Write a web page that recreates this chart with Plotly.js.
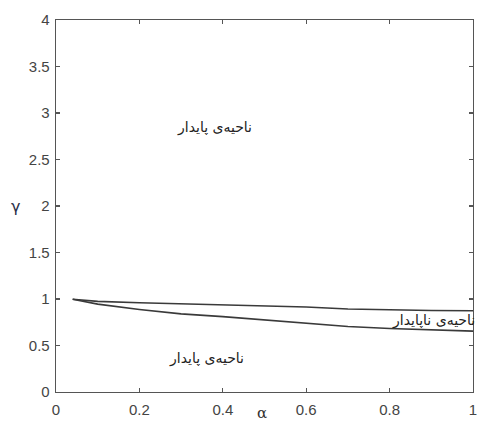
<!DOCTYPE html>
<html>
<head>
<meta charset="utf-8">
<script src="https://cdn.plot.ly/plotly-3.0.1.min.js"></script>
<style>html,body{margin:0;padding:0;background:#fff;}#chart{width:477px;height:421px;}</style>
</head>
<body>
<div id="chart"></div>
<script>
// Data
const alphaVals = [0.04, 0.1, 0.2, 0.3, 0.4, 0.5, 0.6, 0.7, 0.8, 0.9, 1.0];
const upperBoundary = [0.997, 0.975, 0.960, 0.948, 0.935, 0.924, 0.914, 0.893, 0.882, 0.877, 0.873];
const lowerBoundary = [0.997, 0.945, 0.888, 0.840, 0.810, 0.773, 0.735, 0.705, 0.683, 0.666, 0.655];
const xTicks = [0, 0.2, 0.4, 0.6, 0.8, 1];
const xTickText = ['0', '0.2', '0.4', '0.6', '0.8', '1'];
const yTicks = [0, 0.5, 1, 1.5, 2, 2.5, 3, 3.5, 4];
const yTickText = ['0', '0.5', '1', '1.5', '2', '2.5', '3', '3.5', '4'];
const regionLabels = ['ناحیه‌ی پایدار', 'ناحیه‌ی ناپایدار', 'ناحیه‌ی پایدار'];
const regionX = [0.38, 0.905, 0.36];
const regionY = [2.84, 0.765, 0.36];

const lineStyle = {color: '#3a3a3a', width: 1.6};
const traces = [
  {x: alphaVals, y: upperBoundary, mode: 'lines', line: lineStyle, hoverinfo: 'skip', showlegend: false},
  {x: alphaVals, y: lowerBoundary, mode: 'lines', line: lineStyle, hoverinfo: 'skip', showlegend: false}
];

const annotations = regionLabels.map((t, i) => ({
  x: regionX[i], y: regionY[i], xref: 'x', yref: 'y', text: t, showarrow: false,
  font: {family: 'DejaVu Sans', size: 14, color: '#222'}
}));
annotations.push({
  x: -0.098, y: 0.5, xref: 'paper', yref: 'paper', text: 'γ', showarrow: false,
  xanchor: 'center', yanchor: 'middle',
  font: {family: 'DejaVu Sans', size: 16, color: '#2a2f4a'}
});
annotations.push({
  x: 0.494, y: -0.027, xref: 'paper', yref: 'paper', text: 'α', showarrow: false,
  xanchor: 'center', yanchor: 'top',
  font: {family: 'DejaVu Serif', size: 15, color: '#333'}
});

const axisCommon = {
  showline: true, mirror: 'ticks', linecolor: '#555', linewidth: 1.3,
  ticks: 'inside', ticklen: 4, tickwidth: 1.2, tickcolor: '#555',
  showgrid: false, zeroline: false, ticklabeloverflow: 'allow',
  tickfont: {family: 'Liberation Sans, Arial', size: 15, color: '#444'}
};

const layout = {
  width: 477, height: 421,
  margin: {l: 56, r: 4, t: 20, b: 29},
  paper_bgcolor: '#fff', plot_bgcolor: '#fff',
  xaxis: Object.assign({}, axisCommon, {
    range: [0, 1], tickvals: xTicks, ticktext: xTickText, ticklabelstandoff: 4
  }),
  yaxis: Object.assign({}, axisCommon, {
    range: [0, 4], tickvals: yTicks, ticktext: yTickText, ticklabelstandoff: 2
  }),
  annotations: annotations
};

Plotly.newPlot('chart', traces, layout, {staticPlot: true, displayModeBar: false});
</script>
</body>
</html>
